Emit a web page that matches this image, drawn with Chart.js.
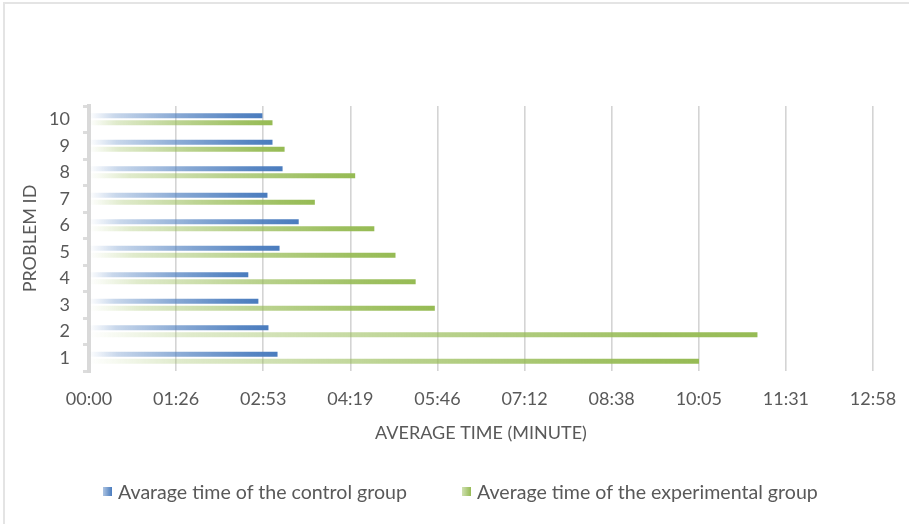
<!DOCTYPE html>
<html>
<head>
<meta charset="utf-8">
<script src="https://cdn.jsdelivr.net/npm/chart.js@4"></script>
<style>
  html, body { margin: 0; padding: 0; background: #ffffff; }
  #wrap { position: relative; width: 909px; height: 524px; overflow: hidden; font-family: Lato, "Liberation Sans", sans-serif; }
  #frame { position: absolute; left: 3px; top: 2px; width: 920px; height: 540px; border: 2px solid #e4e4e4; box-sizing: border-box; pointer-events: none; }
  canvas { position: absolute; left: 0; top: 0; }
  #legend { position: absolute; top: 480px; left: 0; width: 909px; height: 22px; color: #595959; font-size: 19.6px; }
  .item { position: absolute; top: 0; display: flex; align-items: center; height: 22px; white-space: nowrap; }
  .swatch { width: 9px; height: 9px; margin-right: 6px; }
</style>
</head>
<body>
<div id="wrap">
  <canvas id="chart" width="909" height="524"></canvas>
  <div id="frame"></div>
  <div id="legend"></div>
</div>
<script>
// Problem IDs, bottom (1) to top (10)
const problemIds = ['1', '2', '3', '4', '5', '6', '7', '8', '9', '10'];

// Average solving time per problem, in seconds
const controlSeconds = [187, 178, 168, 158, 189, 208, 177, 192, 182, 172];
const experimentalSeconds = [605, 663, 343, 324, 304, 283, 224, 264, 194, 182];

// Axis ticks (seconds) and their mm:ss captions
const xTickValues = [0, 86.4, 172.8, 259.2, 345.6, 432, 518.4, 604.8, 691.2, 777.6];
const xTickLabels = ['00:00', '01:26', '02:53', '04:19', '05:46', '07:12', '08:38', '10:05', '11:31', '12:58'];

const seriesNames = ['Avarage time of the control group', 'Average time of the experimental group'];
const seriesRGB = [[74, 124, 190], [150, 187, 84]];

function rgba(c, a) { return 'rgba(' + c[0] + ',' + c[1] + ',' + c[2] + ',' + a + ')'; }

// Each bar fades in from its base to full colour at its end
function barGradient(rgb) {
  return function (ctx) {
    const chart = ctx.chart;
    const xs = chart.scales.x;
    if (!xs || !chart.chartArea || ctx.type !== 'data') return rgba(rgb, 1);
    const v = ctx.raw;
    const x0 = xs.getPixelForValue(0);
    const x1 = xs.getPixelForValue(v);
    if (!isFinite(x0) || !isFinite(x1) || x1 - x0 < 1) return rgba(rgb, 1);
    const g = chart.ctx.createLinearGradient(x0, 0, x1, 0);
    g.addColorStop(0, rgba(rgb, 0.0));
    g.addColorStop(0.15, rgba(rgb, 0.3));
    g.addColorStop(0.5, rgba(rgb, 0.65));
    g.addColorStop(0.85, rgba(rgb, 0.92));
    g.addColorStop(1, rgba(rgb, 1));
    return g;
  };
}

const textColor = '#595959';
const gridColor = '#d4d4d4';
const fontFamily = 'Lato, "Liberation Sans", sans-serif';

const chart = new Chart(document.getElementById('chart'), {
  type: 'bar',
  data: {
    labels: problemIds,
    datasets: [
      { label: seriesNames[0], data: controlSeconds, backgroundColor: barGradient(seriesRGB[0]), borderWidth: 0,
        categoryPercentage: 0.53, barPercentage: 0.72 },
      { label: seriesNames[1], data: experimentalSeconds, backgroundColor: barGradient(seriesRGB[1]), borderWidth: 0,
        categoryPercentage: 0.53, barPercentage: 0.72 }
    ]
  },
  options: {
    indexAxis: 'y',
    responsive: false,
    animation: false,
    layout: { padding: { top: 106, right: 36, bottom: 51, left: 10 } },
    plugins: {
      legend: { display: false },
      tooltip: { enabled: false }
    },
    scales: {
      x: {
        type: 'linear',
        min: 0,
        max: 777.6,
        afterBuildTicks: (s) => { s.ticks = xTickValues.map(v => ({ value: v })); },
        afterFit: (s) => { s.height = 102; },
        // invisible tick marks push the labels down without widening the side padding
        grid: { color: gridColor, lineWidth: 1.6, drawTicks: true, tickLength: 15, tickColor: 'rgba(0,0,0,0)' },
        border: { display: false },
        ticks: {
          color: textColor,
          font: { family: fontFamily, size: 18 },
          padding: 2,
          maxRotation: 0,
          autoSkip: false,
          callback: (v, i) => xTickLabels[i]
        },
        title: {
          display: true,
          text: 'AVERAGE TIME (MINUTE)',
          color: textColor,
          font: { family: fontFamily, size: 18 },
          padding: { top: 0, bottom: 29 }
        }
      },
      y: {
        reverse: true,
        afterFit: (s) => { s.width = 79; },
        grid: { drawOnChartArea: false, offset: true, tickLength: 6, color: '#dcdcdc', lineWidth: 3 },
        border: { display: true, color: '#d9d9d9', width: 4 },
        ticks: {
          color: textColor,
          font: { family: fontFamily, size: 18 },
          padding: 13
        },
        title: {
          display: true,
          text: 'PROBLEM ID',
          color: textColor,
          font: { family: fontFamily, size: 18 },
          padding: { top: 9, bottom: 0 }
        }
      }
    }
  }
});

// Legend drawn as page text beneath the canvas
const legendLeft = [103, 462];
const legend = document.getElementById('legend');
chart.data.datasets.forEach((ds, i) => {
  const item = document.createElement('div');
  item.className = 'item';
  item.style.left = legendLeft[i] + 'px';
  const sw = document.createElement('span');
  sw.className = 'swatch';
  const c = seriesRGB[i];
  sw.style.background = 'linear-gradient(to right, ' + rgba(c, 0.45) + ', ' + rgba(c, 1) + ')';
  const tx = document.createElement('span');
  tx.textContent = ds.label;
  item.appendChild(sw);
  item.appendChild(tx);
  legend.appendChild(item);
});
</script>
</body>
</html>
